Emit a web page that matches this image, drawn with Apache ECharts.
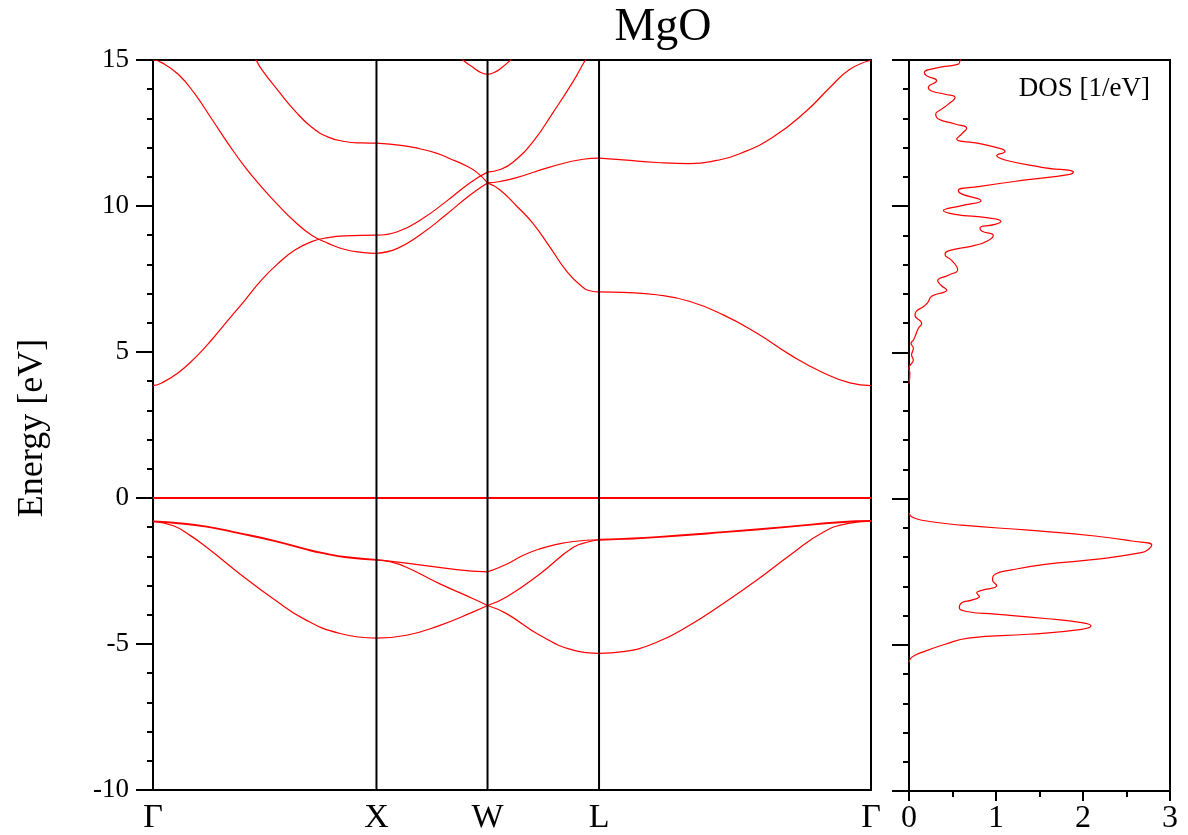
<!DOCTYPE html>
<html>
<head>
<meta charset="utf-8">
<title>MgO band structure and DOS</title>
<script src="https://cdn.jsdelivr.net/npm/echarts@6/dist/echarts.min.js"></script>
<style>
  html, body { margin: 0; padding: 0; background: #fff; }
  #chart { width: 1188px; height: 835px; }
</style>
</head>
<body>
<div id="chart"></div>
<script>
// High-symmetry points along the k-path (path length units)
const kTicks = [0, 1, 1.497, 1.996, 3.213];
const kLabels = ['Γ', 'X', 'W', 'L', 'Γ'];

// Valence bands, [k, E (eV)]
const bandV1 = [
  [0, -0.80], [0.091, -0.85], [0.240, -0.98], [0.389, -1.21], [0.538, -1.46], [0.687, -1.76], [0.762, -1.89], [0.867, -2.03], [1, -2.12],
  [1.134, -2.23], [1.358, -2.45], [1.497, -2.53],
  [1.582, -2.27], [1.657, -1.96], [1.731, -1.74], [1.806, -1.59], [1.881, -1.49], [1.996, -1.43],
  [2.104, -1.40], [2.254, -1.34], [2.552, -1.17], [2.850, -0.98], [3.074, -0.83], [3.213, -0.79]
];
const bandV2 = [
  [0, -0.80], [0.091, -0.85], [0.240, -0.98], [0.389, -1.21], [0.538, -1.46], [0.687, -1.76], [0.762, -1.89], [0.867, -2.03], [1, -2.12],
  [1.060, -2.18], [1.134, -2.37], [1.284, -2.94], [1.433, -3.45], [1.497, -3.68],
  [1.582, -3.39], [1.731, -2.60], [1.881, -1.69], [1.955, -1.49], [1.996, -1.43],
  [2.104, -1.40], [2.254, -1.34], [2.552, -1.17], [2.850, -0.98], [3.074, -0.83], [3.213, -0.79]
];
const bandV3 = [
  [0, -0.80], [0.091, -0.95], [0.166, -1.28], [0.240, -1.69], [0.389, -2.60], [0.538, -3.45], [0.687, -4.19], [0.837, -4.64], [1, -4.80],
  [1.134, -4.70], [1.284, -4.36], [1.433, -3.90], [1.497, -3.68],
  [1.582, -3.96], [1.731, -4.70], [1.881, -5.21], [1.996, -5.32],
  [2.104, -5.26], [2.254, -4.94], [2.403, -4.35], [2.552, -3.61], [2.701, -2.82], [2.850, -1.96], [2.999, -1.17], [3.119, -0.86], [3.213, -0.79]
];

// Conduction bands, [k, E (eV)]
const bandC1 = [
  [0, 3.85], [0.039, 3.94], [0.113, 4.29], [0.188, 4.80], [0.263, 5.42], [0.337, 6.10], [0.412, 6.78], [0.486, 7.47], [0.561, 8.04], [0.635, 8.49], [0.710, 8.78], [0.784, 8.92], [0.859, 8.98], [1, 9.00],
  [1.094, 9.12], [1.202, 9.55], [1.311, 10.15], [1.419, 10.80], [1.497, 11.16],
  [1.553, 11.25], [1.611, 11.50], [1.700, 12.20], [1.790, 13.20], [1.879, 14.25], [1.935, 15.0], [1.996, 15.7]
];
const bandC2 = [
  [0, 15.0], [0.039, 14.91], [0.113, 14.51], [0.188, 13.83], [0.263, 12.98], [0.337, 12.13], [0.412, 11.33], [0.486, 10.65], [0.561, 10.02], [0.635, 9.46], [0.710, 9.00], [0.784, 8.72], [0.859, 8.51], [0.934, 8.41], [1, 8.38],
  [1.094, 8.55], [1.202, 9.05], [1.311, 9.70], [1.419, 10.38], [1.497, 10.79],
  [1.553, 10.84], [1.627, 10.97], [1.776, 11.33], [1.924, 11.60], [1.996, 11.64],
  [2.104, 11.58], [2.254, 11.49], [2.403, 11.45], [2.522, 11.56], [2.626, 11.79], [2.775, 12.36], [2.925, 13.26], [3.029, 14.06], [3.119, 14.68], [3.213, 14.99]
];
const bandC3 = [
  [0.440, 15.27], [0.461, 15.0], [0.486, 14.68], [0.561, 13.94], [0.635, 13.26], [0.710, 12.70], [0.784, 12.36], [0.859, 12.21], [0.934, 12.16], [1, 12.15],
  [1.119, 12.07], [1.193, 11.96], [1.268, 11.81], [1.329, 11.62], [1.403, 11.37], [1.448, 11.16], [1.497, 10.79],
  [1.553, 10.55], [1.627, 10.00], [1.701, 9.40], [1.780, 8.55], [1.850, 7.78], [1.918, 7.25], [1.960, 7.09], [1.996, 7.06],
  [2.104, 7.04], [2.254, 6.96], [2.403, 6.73], [2.552, 6.27], [2.701, 5.65], [2.850, 4.91], [2.999, 4.29], [3.119, 3.94], [3.213, 3.85]
];
const bandC4 = [
  [1.330, 15.45], [1.387, 15.0], [1.433, 14.74], [1.467, 14.57], [1.497, 14.51],
  [1.527, 14.57], [1.561, 14.74], [1.600, 15.0], [1.650, 15.4]
];

// Fermi level
const fermiLine = [[0, 0], [3.213, 0]];

// Density of states, [DOS (1/eV), E (eV)]
const dosConduction = [
  [0.60, 15.05], [0.586, 14.97], [0.567, 14.86], [0.337, 14.74], [0.176, 14.57], [0.203, 14.46], [0.318, 14.29], [0.222, 14.06], [0.26, 13.94],
  [0.414, 13.83], [0.529, 13.72], [0.452, 13.49], [0.375, 13.32], [0.307, 13.15], [0.337, 12.98], [0.529, 12.81], [0.663, 12.67], [0.605, 12.47],
  [0.548, 12.30], [0.797, 12.15], [1.065, 11.96], [1.103, 11.87], [1.008, 11.73], [1.103, 11.58], [1.525, 11.33], [1.89, 11.16], [1.83, 11.08],
  [1.372, 10.91], [0.797, 10.67], [0.567, 10.54], [0.605, 10.42], [0.828, 10.19], [0.605, 10.02], [0.395, 9.85], [0.529, 9.72], [0.912, 9.60],
  [1.057, 9.48], [0.989, 9.38], [0.816, 9.26], [0.835, 9.15], [0.969, 9.00], [0.912, 8.83], [0.758, 8.66], [0.452, 8.47], [0.414, 8.35],
  [0.49, 8.15], [0.559, 7.83], [0.452, 7.64], [0.33, 7.45], [0.375, 7.28], [0.433, 7.13], [0.26, 6.92], [0.215, 6.70], [0.165, 6.56],
  [0.088, 6.42], [0.069, 6.27], [0.146, 5.99], [0.107, 5.82], [0.069, 5.54], [0.05, 5.42], [0.023, 5.31], [0.05, 5.14], [0.03, 4.91],
  [0.05, 4.74], [0.0, 4.46], [0.01, 4.29], [0.0, 3.94]
];
const dosValence = [
  [0, -0.49], [0.03, -0.62], [0.146, -0.74], [0.607, -0.91], [1.372, -1.08], [2.138, -1.28], [2.56, -1.45], [2.79, -1.59], [2.75, -1.74],
  [2.67, -1.85], [2.138, -2.08], [1.563, -2.25], [1.18, -2.44], [0.988, -2.59], [0.96, -2.78], [1.007, -2.97], [0.835, -3.14], [0.778, -3.22],
  [0.808, -3.35], [0.72, -3.47], [0.607, -3.56], [0.578, -3.73], [0.682, -3.87], [0.988, -3.95], [1.563, -4.10], [1.985, -4.24], [2.092, -4.35],
  [1.985, -4.47], [1.372, -4.64], [0.682, -4.77], [0.414, -4.98], [0.146, -5.26], [0.03, -5.43], [0, -5.60]
];

const FONT = 'Liberation Serif';
const RED = '#ff0000';

// Break a band into one piece per path segment so kinks at the
// high-symmetry points stay sharp while each piece is smoothed.
function splitBand(points) {
  const pieces = [];
  for (let s = 0; s < kTicks.length - 1; s++) {
    const a = kTicks[s], b = kTicks[s + 1];
    const pts = points.filter(p => p[0] >= a - 1e-6 && p[0] <= b + 1e-6);
    if (pts.length >= 2) pieces.push(pts);
  }
  return pieces;
}

const series = [];

series.push({
  type: 'line', xAxisIndex: 0, yAxisIndex: 0, data: fermiLine,
  symbol: 'none', silent: true, z: 2,
  lineStyle: { color: RED, width: 2 }
});

// Pieces shared by two bands (degenerate) are drawn once, a bit heavier.
const drawn = new Map();
[bandV1, bandV2, bandV3, bandC1, bandC2, bandC3, bandC4].forEach(band => {
  splitBand(band).forEach(piece => {
    const key = JSON.stringify(piece);
    if (drawn.has(key)) {
      drawn.get(key).lineStyle.width = 1.9;
      return;
    }
    const s = {
      type: 'line', xAxisIndex: 0, yAxisIndex: 0, data: piece,
      symbol: 'none', silent: true, smooth: 0.5, z: 3,
      lineStyle: { color: RED, width: 1.2 }
    };
    drawn.set(key, s);
    series.push(s);
  });
});

// Vertical separators at X, W and L
kTicks.slice(1, -1).forEach(k => {
  series.push({
    type: 'line', xAxisIndex: 0, yAxisIndex: 0, data: [[k, -10], [k, 15]],
    symbol: 'none', silent: true, z: 5,
    lineStyle: { color: '#000', width: 2 }
  });
});

[dosConduction, dosValence].forEach(d => {
  series.push({
    type: 'line', xAxisIndex: 1, yAxisIndex: 1, data: d,
    symbol: 'none', silent: true, smooth: 0.5, z: 3,
    lineStyle: { color: RED, width: 1.2 }
  });
});

const axisLineStyle = { lineStyle: { color: '#000', width: 2 } };
const labelStyle = { color: '#000', fontFamily: FONT, fontSize: 27 };

const chart = echarts.init(document.getElementById('chart'), null, { renderer: 'canvas' });
chart.setOption({
  animation: false,
  backgroundColor: '#fff',
  grid: [
    { left: 153, top: 60, width: 718, height: 733, show: true, borderColor: '#000', borderWidth: 2, backgroundColor: 'transparent' },
    { left: 909, top: 60, width: 261, height: 733, show: true, borderColor: '#000', borderWidth: 2, backgroundColor: 'transparent' }
  ],
  xAxis: [
    {
      type: 'value', gridIndex: 0, min: kTicks[0], max: kTicks[kTicks.length - 1],
      axisLine: { show: true, onZero: false, lineStyle: { color: '#000', width: 2 } },
      axisTick: { show: false },
      splitLine: { show: false },
      axisLabel: {
        ...labelStyle, fontSize: 34, margin: 11,
        customValues: kTicks,
        formatter: v => {
          let best = 0;
          kTicks.forEach((k, i) => { if (Math.abs(k - v) < Math.abs(kTicks[best] - v)) best = i; });
          return kLabels[best];
        }
      }
    },
    {
      type: 'value', gridIndex: 1, min: 0, max: 3, interval: 1,
      axisLine: { show: true, onZero: false, ...axisLineStyle },
      axisTick: { show: true, length: 10, lineStyle: { color: '#000', width: 2 } },
      minorTick: { show: true, splitNumber: 2, length: 6, lineStyle: { color: '#000', width: 2 } },
      splitLine: { show: false },
      axisLabel: { ...labelStyle, fontSize: 32, margin: 12 }
    }
  ],
  yAxis: [
    {
      type: 'value', gridIndex: 0, min: -10, max: 15, interval: 5,
      axisLine: { show: true, onZero: false, ...axisLineStyle },
      axisTick: { show: true, length: 17, lineStyle: { color: '#000', width: 2 } },
      minorTick: { show: true, splitNumber: 5, length: 6, lineStyle: { color: '#000', width: 2 } },
      splitLine: { show: false },
      axisLabel: { ...labelStyle, margin: 24 }
    },
    {
      type: 'value', gridIndex: 1, min: -10, max: 15, interval: 5,
      axisLine: { show: true, onZero: false, ...axisLineStyle },
      axisTick: { show: true, length: 17, lineStyle: { color: '#000', width: 2 } },
      minorTick: { show: true, splitNumber: 5, length: 6, lineStyle: { color: '#000', width: 2 } },
      splitLine: { show: false },
      axisLabel: { show: false }
    }
  ],
  graphic: [
    {
      type: 'text', x: 663, y: 28,
      style: { text: 'MgO', fill: '#000', font: '46px "Liberation Serif"', textAlign: 'center', textVerticalAlign: 'middle' }
    },
    {
      type: 'text', x: 33, y: 428, rotation: Math.PI / 2,
      style: { text: 'Energy [eV]', fill: '#000', font: '36px "Liberation Serif"', textAlign: 'center', textVerticalAlign: 'middle' }
    },
    {
      type: 'text', x: 1150, y: 89,
      style: { text: 'DOS [1/eV]', fill: '#000', font: '27px "Liberation Serif"', textAlign: 'right', textVerticalAlign: 'middle' }
    }
  ],
  series: series
});
</script>
</body>
</html>
